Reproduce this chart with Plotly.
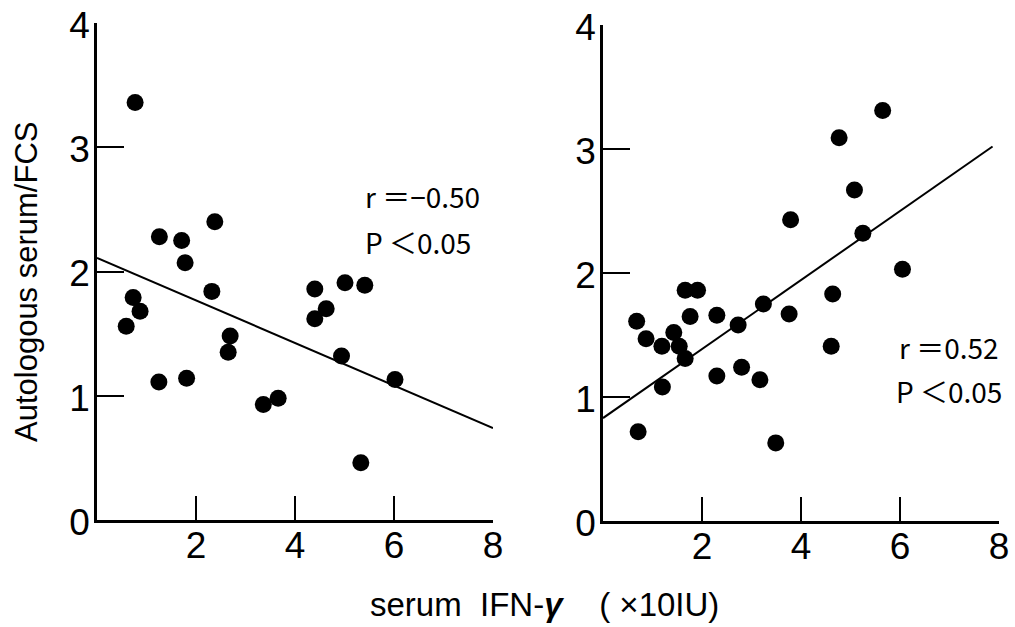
import plotly.graph_objects as go

# ---- data ----
x_tickvals = [2, 4, 6, 8]
y_tickvals = [0, 1, 2, 3, 4]

left_x = [0.77, 1.26, 1.71, 2.38, 1.78, 2.32, 0.73, 0.87, 0.59, 4.40, 5.01, 5.41,
          4.63, 4.40, 2.69, 2.65, 1.25, 1.81, 4.94, 6.02, 3.36, 3.66, 5.33]
left_y = [3.36, 2.28, 2.25, 2.40, 2.07, 1.84, 1.79, 1.68, 1.56, 1.86, 1.91, 1.89,
          1.70, 1.62, 1.48, 1.35, 1.11, 1.14, 1.32, 1.13, 0.93, 0.98, 0.46]
left_fit_x = [0, 8]
left_fit_y = [2.11, 0.74]

right_x = [0.68, 0.87, 1.19, 1.20, 0.71, 1.43, 1.54, 1.66, 1.66, 1.91, 1.76, 2.30,
           2.30, 2.73, 2.80, 3.17, 3.24, 3.49, 3.76, 3.79, 4.61, 4.64, 4.77, 5.08,
           5.25, 5.65, 6.05]
right_y = [1.61, 1.47, 1.41, 1.08, 0.72, 1.52, 1.41, 1.31, 1.86, 1.86, 1.65, 1.66,
           1.17, 1.58, 1.24, 1.14, 1.75, 0.63, 1.67, 2.43, 1.41, 1.83, 3.09, 2.67,
           2.32, 3.31, 2.03]
right_fit_x = [0, 7.87]
right_fit_y = [0.83, 3.02]

left_stats = ["r \uff1d\u22120.50", "P \uff1c0.05"]
right_stats = ["r \uff1d0.52", "P \uff1c0.05"]

W, H = 1015, 627
TICK_FONT = dict(family="Liberation Sans Narrow, Liberation Sans, Arial, sans-serif",
                 size=37, color="black")
TEXT_FONT = "Liberation Sans, Arial, Noto Sans CJK JP"
STAT_FONT = "Noto Sans CJK JP, Liberation Sans"

fig = go.Figure()
marker = dict(size=17, color="black", line=dict(width=0))
fig.add_trace(go.Scatter(x=left_x, y=left_y, mode="markers", marker=marker,
                         xaxis="x", yaxis="y", cliponaxis=False, showlegend=False))
fig.add_trace(go.Scatter(x=left_fit_x, y=left_fit_y, mode="lines",
                         line=dict(color="black", width=2), xaxis="x", yaxis="y",
                         showlegend=False))
fig.add_trace(go.Scatter(x=right_x, y=right_y, mode="markers", marker=marker,
                         xaxis="x2", yaxis="y2", cliponaxis=False, showlegend=False))
fig.add_trace(go.Scatter(x=right_fit_x, y=right_fit_y, mode="lines",
                         line=dict(color="black", width=2), xaxis="x2", yaxis="y2",
                         showlegend=False))

xcommon = dict(range=[0, 8], tickvals=x_tickvals, ticks="inside", ticklen=24, tickwidth=2,
               tickcolor="black", showline=True, linecolor="black", linewidth=2.5,
               showgrid=False, zeroline=False, tickfont=TICK_FONT, automargin=False,
               fixedrange=True, ticklabelstandoff=-9)
ycommon = dict(range=[0, 4], tickvals=y_tickvals, ticks="inside", ticklen=27, tickwidth=2,
               tickcolor="black", showline=True, linecolor="black", linewidth=2.5,
               showgrid=False, zeroline=False, tickfont=TICK_FONT, automargin=False,
               fixedrange=True, ticklabelstandoff=-3, ticklabelshift=2)

fig.update_layout(
    width=W, height=H, margin=dict(l=0, r=0, t=0, b=0, autoexpand=False),
    paper_bgcolor="white", plot_bgcolor="white",
    xaxis=dict(domain=[97 / W, 493 / W], anchor="y", **xcommon),
    yaxis=dict(domain=[1 - 520 / H, 1 - 23 / H], anchor="x", **ycommon),
    xaxis2=dict(domain=[603 / W, 999 / W], anchor="y2", **xcommon),
    yaxis2=dict(domain=[1 - 521 / H, 1 - 25 / H], anchor="x2", **ycommon),
)

annots = []
for (txt, xa, ya, xv, yv) in [
    (left_stats[0], "x", "y", 5.38, 2.61),
    (left_stats[1], "x", "y", 5.38, 2.24),
    (right_stats[0], "x2", "y2", 5.94, 1.40),
    (right_stats[1], "x2", "y2", 5.88, 1.05),
]:
    annots.append(dict(text=txt, x=xv, y=yv, xref=xa, yref=ya, xanchor="left",
                       yanchor="middle", showarrow=False,
                       font=dict(family=STAT_FONT, size=28, color="black")))

annots.append(dict(text="Autologous serum/FCS", x=26 / W, y=1 - 282 / H, xref="paper",
                   yref="paper", textangle=-90, showarrow=False, xanchor="center",
                   yanchor="middle", font=dict(family=TEXT_FONT, size=31, color="black")))
annots.append(dict(text="serum  IFN-<i><b>\u03b3</b></i>    ( \u00d710IU)", x=544 / W, y=1 - 604 / H,
                   xref="paper", yref="paper", showarrow=False, xanchor="center",
                   yanchor="middle", font=dict(family=TEXT_FONT, size=33, color="black")))
fig.update_layout(annotations=annots)

fig.write_html("out.html", config={"displayModeBar": False},
               post_script="document.body.style.margin='0';document.body.style.padding='0';")
